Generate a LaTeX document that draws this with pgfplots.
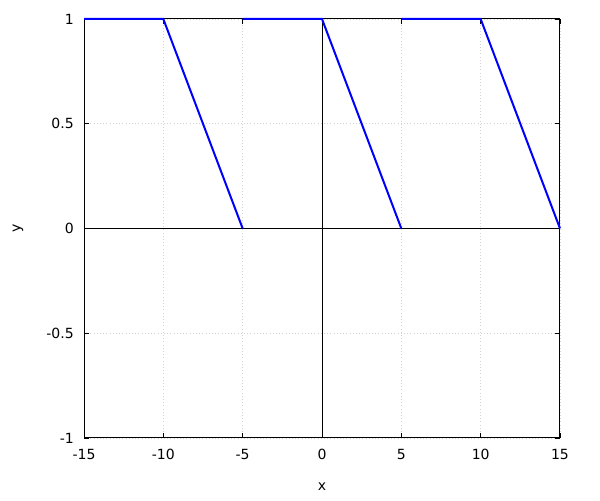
\documentclass[border=0pt]{standalone}
\usepackage{pgfplots}
\pgfplotsset{compat=1.18}
\usepackage{fontspec}
\setmainfont{DejaVu Sans}
\begin{document}
\begin{tikzpicture}[x=1pt,y=1pt]
\fontsize{10.5}{12}\selectfont
\path[use as bounding box] (0,0) rectangle (450,375);
\begin{axis}[
  at={(63pt,46.5pt)}, anchor=south west,
  scale only axis, width=357pt, height=314.25pt,
  xmin=-15, xmax=15, ymin=-1, ymax=1,
  xtick={-15,-10,...,15}, ytick={-1,-0.5,0,0.5,1},
  yticklabels={-1,-0.5,0,0.5,1},
  xticklabels={-15,-10,-5,0,5,10,15},
  tick align=inside, major tick length=4pt,
  tick style={black, line width=0.6pt},
  axis line style={black, line width=0.75pt},
  grid=major, major grid style={dotted, gray!35, line width=0.5pt},
  xlabel={x}, ylabel={y},
  xlabel style={at={(axis description cs:0.5,0)}, anchor=center, yshift=-36.75pt},
  ylabel style={at={(axis description cs:0,0.5)}, anchor=center, yshift=49.5pt},
  every tick label/.append style={font=\fontsize{10.5}{12}\selectfont},
  label style={font=\fontsize{10.5}{12}\selectfont},
  /pgf/number format/assume math mode=true,
  xticklabel style={yshift=-5pt},
  yticklabel style={xshift=-4pt},
  clip=false,
]
\draw[black, line width=0.5pt] (axis cs:-15,0) -- (axis cs:15,0);
\draw[black, line width=0.5pt] (axis cs:0,-1) -- (axis cs:0,1);
\addplot[blue, line width=1.5pt] coordinates {(-15,1) (-10,1) (-5,0)};
\addplot[blue, line width=1.5pt] coordinates {(-5,1) (0,1) (5,0)};
\addplot[blue, line width=1.5pt] coordinates {(5,1) (10,1) (15,0)};
\end{axis}
\end{tikzpicture}
\end{document}
